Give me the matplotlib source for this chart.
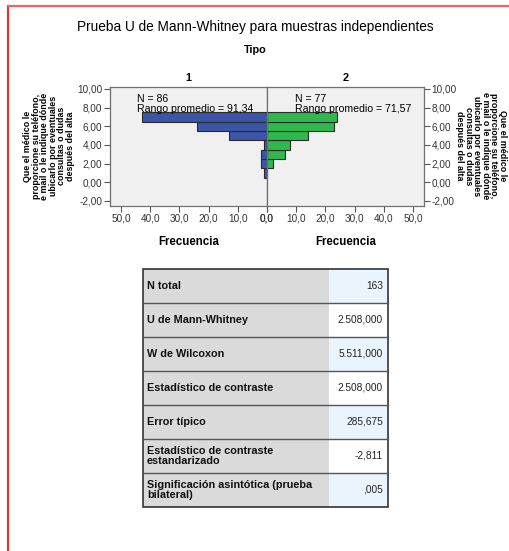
import matplotlib
matplotlib.use("Agg")
import matplotlib.pyplot as plt
from matplotlib.patches import Rectangle
from matplotlib.lines import Line2D
from matplotlib.ticker import FuncFormatter

plt.rcParams['font.family'] = ['Liberation Sans', 'DejaVu Sans']

# ---- data ----
bins = [1, 2, 3, 4, 5, 6, 7]
freq_tipo1 = [1, 2, 2, 1, 13, 24, 43]
freq_tipo2 = [0, 2, 6, 8, 14, 23, 24]
groups = ["1", "2"]
n_vals = [86, 77]
rango_vals = ["91,34", "71,57"]
yticks = [-2, 0, 2, 4, 6, 8, 10]
xticks = [0, 10, 20, 30, 40, 50]
ylabel = "Que el médico le\nproporcione su teléfono,\ne mail o le indique dónde\nubicarlo por eventuales\nconsultas o dudas\ndespués del alta"
table_labels = ["N total", "U de Mann-Whitney", "W de Wilcoxon", "Estadístico de contraste",
                "Error típico", "Estadístico de contraste\nestandarizado",
                "Significación asintótica (prueba\nbilateral)"]
table_values = ["163", "2.508,000", "5.511,000", "2.508,000", "285,675", "-2,811", ",005"]

W, H = 510, 551
fig = plt.figure(figsize=(W / 100, H / 100), dpi=100)

def fx(x):
    return x / W

def fy(y):
    return 1 - y / H

# red page border
fig.add_artist(Line2D([fx(8), fx(8)], [fy(5.5), fy(551)], color="#d9383a", lw=1.6))
fig.add_artist(Line2D([fx(8), fx(510)], [fy(5.5), fy(5.5)], color="#e06a6a", lw=1.6))

fig.text(fx(255), fy(27), "Prueba U de Mann-Whitney para muestras independientes",
         ha="center", va="center", fontsize=9.8)
fig.text(fx(255), fy(50), "Tipo", ha="center", va="center", fontsize=7.8, fontweight="bold")

top, bot = 87, 206
left0, mid, right0 = 110, 267, 424
blue = "#3b55a8"
green = "#2fb84c"
fmt_y = FuncFormatter(lambda v, p: f"{v:.2f}".replace(".", ","))
fmt_x = FuncFormatter(lambda v, p: f"{v:.1f}".replace(".", ","))

axes = []
for i in range(2):
    if i == 0:
        ax = fig.add_axes([fx(left0), fy(bot), fx(mid - left0), (bot - top) / H])
    else:
        ax = fig.add_axes([fx(mid), fy(bot), fx(right0 - mid), (bot - top) / H])
    ax.set_facecolor("#f0f0f0")
    vals = freq_tipo1 if i == 0 else freq_tipo2
    ax.barh(bins, vals, height=1.0, color=blue if i == 0 else green,
            edgecolor="#2a2a2a", linewidth=0.8)
    ax.set_ylim(-2.55, 10.2)
    ax.set_xlim(0, 53.8)
    if i == 0:
        ax.invert_xaxis()
    ax.set_yticks(yticks)
    ax.yaxis.set_major_formatter(fmt_y)
    ax.set_xticks(xticks)
    ax.xaxis.set_major_formatter(fmt_x)
    ax.tick_params(axis="both", labelsize=7.2, length=4, width=0.8, color="#555555",
                   labelcolor="#333333", pad=1.5)
    if i == 1:
        ax.yaxis.tick_right()
    for s in ax.spines.values():
        s.set_color("#707070")
        s.set_linewidth(0.9)
    ax.set_xlabel("Frecuencia", fontsize=8.3, fontweight="bold", labelpad=9)
    ax.set_title(groups[i], fontsize=7.8, fontweight="bold", pad=4)
    axes.append(ax)

# annotations
fig.text(fx(137), fy(99.5), f"N = {n_vals[0]}", ha="left", va="center", fontsize=7.6)
fig.text(fx(137), fy(109), f"Rango promedio = {rango_vals[0]}", ha="left", va="center", fontsize=7.6)
fig.text(fx(295), fy(99.5), f"N = {n_vals[1]}", ha="left", va="center", fontsize=7.6)
fig.text(fx(295), fy(109), f"Rango promedio = {rango_vals[1]}", ha="left", va="center", fontsize=7.6)

# y labels
fig.text(fx(49), fy(146), ylabel, rotation=90, ha="center", va="center", fontsize=6.4,
         fontweight="bold", linespacing=0.93, multialignment="center")
fig.text(fx(481), fy(146), ylabel, rotation=270, ha="center", va="center", fontsize=6.4,
         fontweight="bold", linespacing=0.93, multialignment="center")

# table
tx0, tx1, tsplit = 143, 388, 329
ty0, rowh = 269, 34
n = len(table_labels)
for r in range(n):
    y = ty0 + r * rowh
    fig.add_artist(Rectangle((fx(tx0), fy(y + rowh)), fx(tsplit - tx0), rowh / H,
                             facecolor="#dadada", edgecolor="none"))
    fig.add_artist(Rectangle((fx(tsplit), fy(y + rowh)), fx(tx1 - tsplit), rowh / H,
                             facecolor="#eaf4fd" if r % 2 == 0 else "#ffffff", edgecolor="none"))
    fig.text(fx(147), fy(y + rowh / 2), table_labels[r], ha="left", va="center", fontsize=7.8,
             fontweight="bold", linespacing=0.95, color="#111111")
    fig.text(fx(383), fy(y + rowh / 2), table_values[r], ha="right", va="center", fontsize=7.3,
             color="#222222")
    if r > 0:
        fig.add_artist(Line2D([fx(tx0), fx(tx1)], [fy(y), fy(y)], color="#555555", lw=1.0))
fig.add_artist(Rectangle((fx(tx0), fy(ty0 + n * rowh)), fx(tx1 - tx0), n * rowh / H,
                         facecolor="none", edgecolor="#333333", lw=1.2))

fig.savefig("out.png", dpi=100)
